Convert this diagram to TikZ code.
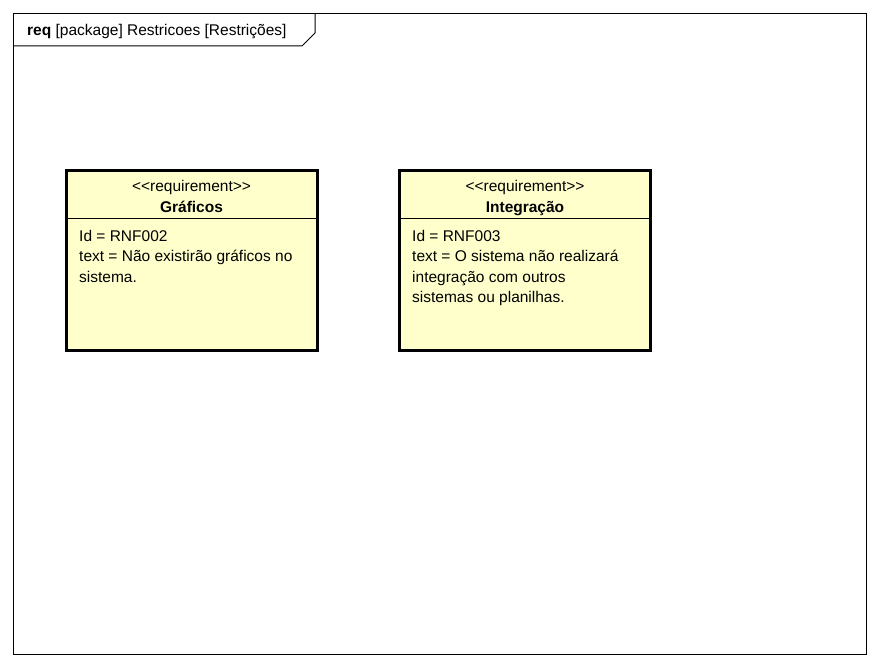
\documentclass[tikz,border=0pt]{standalone}
\usepackage{fontspec}
\setmainfont{Liberation Sans}
\usetikzlibrary{positioning}
\definecolor{reqyellow}{RGB}{255,255,204}
\newcommand{\stereotype}[1]{<\kern0pt<#1>\kern0pt>}
\tikzset{reqbox/.style={draw, fill=reqyellow, line width=3pt,
         minimum width=251pt, minimum height=180pt, inner sep=0pt},
         txt/.style={font=\fontsize{15.5}{20.5}\selectfont, inner sep=0pt},
         reqname/.style={txt, font=\fontsize{15.5}{20.5}\selectfont\bfseries},
         reqbody/.style={txt, align=left, anchor=north west}}

\begin{document}
\begin{tikzpicture}[x=1pt,y=-1pt]
      \useasboundingbox (0,0) rectangle (880,666);
      % frame with its tab
      \draw[line width=1pt] (13.5,13.5) rectangle (866,654);
      \draw[line width=1pt] (13.5,46) -- (302,46) -- (315,33) -- (315,13.5);
      \node[txt, anchor=base west] (frametitle) at (27,36) {\textbf{req} [package] Restricoes [Restrições]};

      \node[reqbox] (graficos) at (191.5,260) {};
      \draw[line width=1.2pt] ([yshift=-50pt]graficos.north west) -- ([yshift=-50pt]graficos.north east);
      \node[txt, anchor=base] (graficosst) at (191.5,191) {\stereotype{requirement}};
      \node[reqname, anchor=base] (graficosname) at (191.5,212) {Gráficos};
      \node[reqbody] (graficosbody) at (79,230) {Id = RNF002\\text = Não existirão gráficos no\\sistema.};

      \node[reqbox] (integracao) at (525,260) {};
      \draw[line width=1.2pt] ([yshift=-50pt]integracao.north west) -- ([yshift=-50pt]integracao.north east);
      \node[txt, anchor=base] (integracaost) at (525,191) {\stereotype{requirement}};
      \node[reqname, anchor=base] (integracaoname) at (525,212) {Integração};
      \node[reqbody] (integracaobody) at (412,230) {Id = RNF003\\text = O sistema não realizará\\integração com outros\\sistemas ou planilhas.};
    \end{tikzpicture}
\end{document}
